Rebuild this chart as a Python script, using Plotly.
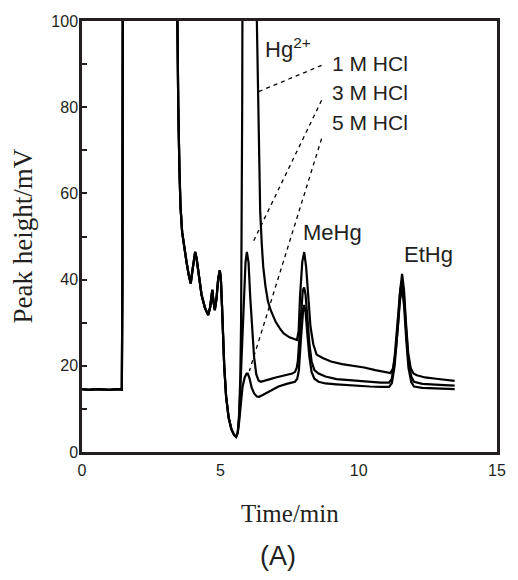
import plotly.graph_objects as go

# ---- data ----
# shared part of the three traces (baseline, solvent front, early peaks, dip)
time_common = [0.0, 0.25, 0.5, 0.75, 1.0, 1.25, 1.44, 1.46, 1.48, 3.40, 3.44, 3.48, 3.52, 3.56,
               3.62, 3.70, 3.78, 3.86, 3.93, 3.99, 4.05, 4.09, 4.14, 4.22, 4.32, 4.44, 4.56,
               4.63, 4.68, 4.71, 4.75, 4.80, 4.86, 4.92, 4.98, 5.02, 5.06, 5.09, 5.14, 5.21,
               5.30, 5.40, 5.50, 5.57, 5.63]
signal_common = [14.6, 14.4, 14.6, 14.5, 14.4, 14.6, 14.5, 40, 130, 130, 100, 80, 66, 57,
                 51, 47, 44, 41, 39.1, 42, 45.5, 46.4, 45, 41, 36.5, 33.5, 31.8,
                 33.5, 36.5, 37.6, 35, 32.9, 35.5, 40, 42.2, 40, 34, 28.3, 20, 12.8,
                 8, 5.3, 3.9, 3.5, 4.5]

# 1 M HCl
time_1M = [5.68, 5.72, 5.75, 5.77, 5.79, 5.81, 6.30, 6.32, 6.36, 6.40, 6.44, 6.50, 6.55, 6.63,
           6.72, 6.82, 7.00, 7.15, 7.29, 7.50, 7.70, 7.77, 7.83, 7.88, 7.96, 8.03, 8.10, 8.18,
           8.26, 8.36, 8.48, 8.70, 9.00, 9.40, 9.80, 10.2, 10.6, 11.0, 11.15, 11.25, 11.35,
           11.43, 11.50, 11.57, 11.64, 11.71, 11.79, 11.88, 11.98, 12.1, 12.4, 12.8, 13.1, 13.47]
signal_1M = [9, 17, 30, 50, 80, 130, 130, 100, 84, 66, 56, 48, 43, 38.5,
             35, 32.9, 30.2, 28.7, 27.5, 26.6, 26.1, 26.0, 28, 36, 44, 46.4, 43, 36,
             29, 25, 22.6, 21.8, 21.0, 20.4, 20.0, 19.6, 19.0, 18.5, 18.3, 19.5, 24,
             30, 37.5, 41.3, 37.5, 30, 23, 19.5, 18.2, 17.8, 17.3, 17.0, 16.8, 16.5]

# 3 M HCl
time_3M = [5.68, 5.73, 5.79, 5.85, 5.91, 5.96, 6.02, 6.08, 6.15, 6.22, 6.30, 6.38, 6.46, 6.60,
           6.80, 7.00, 7.20, 7.40, 7.60, 7.70, 7.76, 7.80, 7.86, 7.93, 7.98, 8.03, 8.08, 8.15,
           8.22, 8.30, 8.40, 8.55, 8.80, 9.20, 9.60, 10.0, 10.4, 10.8, 11.1, 11.2, 11.30,
           11.40, 11.50, 11.57, 11.64, 11.72, 11.80, 11.90, 12.0, 12.3, 12.7, 13.1, 13.47]
signal_3M = [8, 16, 27, 37, 44, 46.4, 44, 36, 28, 22, 18, 16.6, 16.3, 16.5,
             16.9, 17.3, 17.6, 17.9, 18.2, 18.6, 19.5, 21, 27, 34, 37.5, 38.2, 36.5, 31,
             25, 21, 19, 18.2, 17.5, 16.9, 16.7, 16.4, 16.2, 16.1, 16.1, 17, 22,
             30, 37.5, 39.5, 36, 28, 21, 17.5, 16.3, 15.8, 15.6, 15.5, 15.4]

# 5 M HCl
time_5M = [5.68, 5.73, 5.80, 5.88, 5.95, 5.99, 6.05, 6.13, 6.22, 6.32, 6.40, 6.55, 6.80, 7.10,
           7.40, 7.70, 7.78, 7.84, 7.90, 7.96, 8.00, 8.03, 8.08, 8.15, 8.22, 8.30, 8.40, 8.55,
           8.80, 9.20, 9.60, 10.0, 10.4, 10.8, 11.1, 11.2, 11.30, 11.40, 11.50, 11.57, 11.64,
           11.72, 11.80, 11.90, 12.0, 12.3, 12.7, 13.1, 13.47]
signal_5M = [7, 11, 15, 17.3, 18.2, 18.2, 17.2, 15, 13.6, 12.9, 12.8, 13.3, 14.2, 15.2,
             15.8, 16.3, 17, 19, 25, 31, 33.5, 34.1, 32.5, 27, 22, 18.5, 17, 16.3,
             15.9, 15.7, 15.5, 15.4, 15.2, 15.1, 15.1, 16, 20,
             28, 35.5, 37.8, 34, 26, 19.5, 16.2, 15.2, 14.9, 14.8, 14.7, 14.6]

series_names = ["1 M HCl", "3 M HCl", "5 M HCl"]
series_time = [time_1M, time_3M, time_5M]
series_signal = [signal_1M, signal_3M, signal_5M]

x_ticks = [0, 5, 10, 15]
y_ticks = [0, 10, 20, 30, 40, 50, 60, 70, 80, 90, 100]
y_ticktext = ["0", " ", "20", " ", "40", " ", "60", " ", "80", " ", "100"]

# label anchor positions (data units)
label_x = 8.95
label_y = [90.1, 83.4, 76.4]
leader_start = [(8.66, 89.7), (8.66, 81.6), (8.66, 72.7)]
leader_end = [(6.34, 83.5), (6.16, 48.4), (6.05, 18.8)]

fig = go.Figure()
for name, tt, ss in zip(series_names, series_time, series_signal):
    fig.add_trace(go.Scatter(x=time_common + tt, y=signal_common + ss, mode="lines",
                             name=name, line=dict(color="#000000", width=2.2),
                             showlegend=False))

axis_color = "#231f20"
tick_font = dict(family="Liberation Sans, Arial", size=16, color=axis_color)

fig.update_layout(
    width=518, height=580,
    margin=dict(l=82, r=15, t=21, b=128),
    paper_bgcolor="white", plot_bgcolor="white",
    xaxis=dict(range=[0, 15], tickvals=x_ticks, ticks="", showgrid=False, zeroline=False,
               showline=True, linecolor=axis_color, linewidth=2.5, mirror=True,
               tickfont=tick_font, ticklabelstandoff=2),
    yaxis=dict(range=[0, 100], tickvals=y_ticks, ticktext=y_ticktext, ticks="inside",
               ticklen=5, tickwidth=2, tickcolor=axis_color, showgrid=False, zeroline=False,
               showline=True, linecolor=axis_color, linewidth=2.5, mirror=True,
               tickfont=tick_font, ticklabelstandoff=-2),
)

ann_font = dict(family="Liberation Sans, Arial", size=21, color="#231f20")
for name, ly in zip(series_names, label_y):
    fig.add_annotation(x=label_x, y=ly, text=name, showarrow=False, xanchor="left",
                       yanchor="middle", font=ann_font)
for (x0, y0), (x1, y1) in zip(leader_start, leader_end):
    fig.add_shape(type="line", x0=x0, y0=y0, x1=x1, y1=y1, xref="x", yref="y",
                  line=dict(color="#000000", width=1.3, dash="4px,4px"))

big_font = dict(family="Liberation Sans, Arial", size=22, color="#231f20")
fig.add_annotation(x=6.555, y=93.7, text="Hg<sup>2+</sup>", showarrow=False,
                   xanchor="left", yanchor="middle", font=big_font)
fig.add_annotation(x=7.91, y=51.0, text="MeHg", showarrow=False,
                   xanchor="left", yanchor="middle", font=big_font)
fig.add_annotation(x=11.55, y=45.9, text="EtHg", showarrow=False,
                   xanchor="left", yanchor="middle", font=big_font)

fig.add_annotation(xref="paper", yref="paper", x=0.5, y=0, yshift=-61, text="Time/min",
                   showarrow=False, xanchor="center", yanchor="middle",
                   font=dict(family="Liberation Serif, Times New Roman", size=25,
                             color="#231f20"))
fig.add_annotation(xref="paper", yref="paper", x=0, xshift=-60, y=0.5, text="Peak height/mV",
                   textangle=-90, showarrow=False, xanchor="center", yanchor="middle",
                   font=dict(family="Liberation Serif, Times New Roman", size=27,
                             color="#231f20"))
fig.add_annotation(xref="paper", yref="paper", x=0.472, y=0, yshift=-104, text="(A)",
                   showarrow=False, xanchor="center", yanchor="middle",
                   font=dict(family="Liberation Sans, Arial", size=27, color="#231f20"))

fig.write_html("out.html")
